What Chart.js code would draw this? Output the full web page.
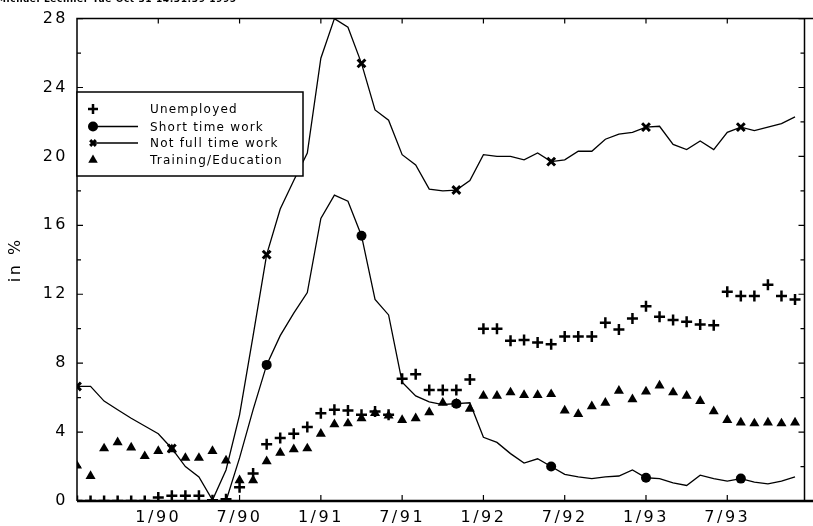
<!DOCTYPE html>
<html>
<head>
<meta charset="utf-8">
<script src="https://cdn.jsdelivr.net/npm/chart.js@4.4.1/dist/chart.umd.min.js"></script>
<style>
  html, body { margin: 0; padding: 0; background: #fff; }
  #wrap { width: 813px; height: 526px; }
</style>
</head>
<body>
<div id="wrap"><canvas id="c" width="813" height="526"></canvas></div>
<script>
// months 7/89 .. 12/93, one point per month
const months = [
  '7/89', '8/89', '9/89', '10/89', '11/89', '12/89',
  '1/90', '2/90', '3/90', '4/90', '5/90', '6/90', '7/90', '8/90', '9/90', '10/90', '11/90', '12/90',
  '1/91', '2/91', '3/91', '4/91', '5/91', '6/91', '7/91', '8/91', '9/91', '10/91', '11/91', '12/91',
  '1/92', '2/92', '3/92', '4/92', '5/92', '6/92', '7/92', '8/92', '9/92', '10/92', '11/92', '12/92',
  '1/93', '2/93', '3/93', '4/93', '5/93', '6/93', '7/93', '8/93', '9/93', '10/93', '11/93', '12/93'
];

const unemployed = [
  0, 0, 0, 0, 0, 0, 0.2, 0.3, 0.3, 0.3, 0.05, 0.1,
  0.8, 1.6, 3.3, 3.65, 3.9, 4.3, 5.1, 5.3, 5.25, 5.0, 5.2, 5.0,
  7.1, 7.35, 6.45, 6.45, 6.45, 7.05, 10.0, 10.0, 9.3, 9.35, 9.2, 9.1,
  9.55, 9.55, 9.55, 10.35, 9.95, 10.6, 11.3, 10.7, 10.5, 10.4, 10.25, 10.2,
  12.15, 11.9, 11.9, 12.55, 11.9, 11.7
];

const shortTime = [
  null, null, null, null, null, null, null, null, null, null, null, 0,
  2.5, 5.3, 7.9, 9.6, 10.9, 12.1, 16.4, 17.75, 17.4, 15.4, 11.7, 10.8,
  6.9, 6.1, 5.75, 5.6, 5.65, 5.7, 3.7, 3.4, 2.75, 2.2, 2.45, 2.0,
  1.55, 1.4, 1.3, 1.4, 1.45, 1.8, 1.35, 1.3, 1.05, 0.9, 1.5, 1.3,
  1.15, 1.3, 1.1, 1.0, 1.15, 1.4
];

const notFullTime = [
  6.65, 6.65, 5.8, 5.3, 4.8, 4.35, 3.9, 3.05, 2.0, 1.4, 0.05, 1.8,
  5.0, 9.6, 14.3, 16.95, 18.6, 20.2, 25.7, 28.0, 27.5, 25.4, 22.7, 22.1,
  20.1, 19.5, 18.1, 18.0, 18.05, 18.6, 20.1, 20.0, 20.0, 19.8, 20.2, 19.7,
  19.8, 20.3, 20.3, 21.0, 21.3, 21.4, 21.7, 21.75, 20.7, 20.4, 20.9, 20.4,
  21.4, 21.7, 21.5, 21.7, 21.9, 22.3
];

const training = [
  2.05, 1.45, 3.05, 3.4, 3.1, 2.6, 2.9, 3.0, 2.5, 2.5, 2.9, 2.35,
  1.2, 1.2, 2.3, 2.8, 3.0, 3.05, 3.9, 4.45, 4.5, 4.8, 5.1, 4.95,
  4.7, 4.8, 5.15, 5.7, 5.65, 5.35, 6.1, 6.1, 6.3, 6.15, 6.15, 6.2,
  5.25, 5.05, 5.5, 5.7, 6.4, 5.9, 6.35, 6.7, 6.3, 6.1, 5.8, 5.2,
  4.7, 4.55, 4.5, 4.55, 4.5, 4.55
];

const yTicks = [0, 4, 8, 12, 16, 20, 24, 28];
const headerText = 'Michael Lechner Tue Oct 31 14:31:39 1995';

const FONT = 'DejaVu Sans';

function pts(arr) {
  return arr.map((v, i) => ({ x: i, y: v }));
}

// lines carry a marker every 7th month only
function every7(r) {
  return ctx => (ctx.raw && ctx.raw.x % 7 === 0) ? r : 0;
}

function symbol(ctx, style, x, y, r, bw) {
  ctx.lineWidth = bw;
  if (Chart.helpers && Chart.helpers.drawPoint) {
    Chart.helpers.drawPoint(ctx, { pointStyle: style, radius: r, rotation: 0, borderWidth: bw }, x, y);
  }
}

const frame = {
  id: 'frame',
  beforeDraw(chart) {
    chart.ctx.letterSpacing = '2.5px';
  },
  afterDatasetsDraw(chart) {
    const { ctx, chartArea: a, scales: { x, y } } = chart;
    ctx.save();
    ctx.letterSpacing = '0px';
    ctx.strokeStyle = '#000';
    ctx.fillStyle = '#000';

    // box
    ctx.lineWidth = 1.5;
    ctx.beginPath();
    ctx.moveTo(a.left, a.bottom);
    ctx.lineTo(a.left, a.top);
    ctx.lineTo(chart.width, a.top);
    ctx.moveTo(a.right, a.top);
    ctx.lineTo(a.right, a.bottom);
    ctx.stroke();
    ctx.lineWidth = 2.5;
    ctx.beginPath();
    ctx.moveTo(a.left, a.bottom);
    ctx.lineTo(chart.width, a.bottom);
    ctx.stroke();

    // inward ticks
    ctx.lineWidth = 1.2;
    ctx.beginPath();
    y.ticks.forEach(t => {
      const py = y.getPixelForValue(t.value);
      const len = t.value % 4 === 0 ? 6 : 4;
      ctx.moveTo(a.left, py); ctx.lineTo(a.left + len, py);
      ctx.moveTo(a.right, py); ctx.lineTo(a.right - len, py);
    });
    x.ticks.forEach(t => {
      if (t.value === 0) return;
      const px = x.getPixelForValue(t.value);
      ctx.moveTo(px, a.bottom); ctx.lineTo(px, a.bottom - 6);
      ctx.moveTo(px, a.top); ctx.lineTo(px, a.top + 5);
    });
    ctx.stroke();

    // legend box
    const lx = a.left, ly = 92, lw = 226, lh = 84;
    ctx.fillStyle = '#fff';
    ctx.fillRect(lx, ly, lw, lh);
    ctx.lineWidth = 1.5;
    ctx.strokeRect(lx, ly, lw, lh);
    ctx.fillStyle = '#000';
    ctx.font = '12px "' + FONT + '"';
    ctx.letterSpacing = '1.2px';
    ctx.textBaseline = 'middle';
    ctx.textAlign = 'left';
    const rows = [109, 126.5, 143, 160];
    chart.data.datasets.forEach((ds, i) => {
      const ry = rows[i];
      const sx = 93;
      if (ds.showLine !== false) {
        ctx.lineWidth = 1.3;
        ctx.beginPath();
        ctx.moveTo(sx, ry);
        ctx.lineTo(138, ry);
        ctx.stroke();
      }
      symbol(ctx, ds.pointStyle, sx, ry, ds.legendRadius, ds.pointBorderWidth || 0);
      ctx.fillText(ds.label, 150, ry + 1);
    });

    // plot stamp at the very top, cut by the page edge
    ctx.font = 'bold 9px "' + FONT + '"';
    ctx.letterSpacing = '0.6px';
    ctx.textBaseline = 'alphabetic';
    ctx.fillText(headerText, -3, 2);
    ctx.restore();
  }
};

new Chart(document.getElementById('c'), {
  type: 'line',
  data: {
    datasets: [
      {
        label: 'Unemployed',
        data: pts(unemployed),
        showLine: false,
        pointStyle: 'cross',
        pointRadius: 5.5,
        pointBorderWidth: 2.5,
        legendRadius: 5,
        borderColor: '#000',
        backgroundColor: '#000'
      },
      {
        label: 'Short time work',
        data: pts(shortTime),
        borderColor: '#000',
        borderWidth: 1.3,
        backgroundColor: '#000',
        pointStyle: 'circle',
        pointRadius: every7(5),
        pointBorderWidth: 0,
        legendRadius: 5,
        tension: 0
      },
      {
        label: 'Not full time work',
        data: pts(notFullTime),
        borderColor: '#000',
        borderWidth: 1.3,
        backgroundColor: '#000',
        pointStyle: 'crossRot',
        pointRadius: every7(5.5),
        pointBorderWidth: 3,
        legendRadius: 4,
        tension: 0
      },
      {
        label: 'Training/Education',
        data: pts(training),
        showLine: false,
        pointStyle: 'triangle',
        pointRadius: 5.8,
        pointBorderWidth: 0,
        legendRadius: 5.5,
        borderColor: '#000',
        backgroundColor: '#000'
      }
    ]
  },
  options: {
    responsive: false,
    animation: false,
    events: [],
    layout: { padding: { top: 15, right: 2, left: 0, bottom: 0 } },
    plugins: { legend: { display: false }, tooltip: { enabled: false } },
    scales: {
      x: {
        type: 'linear',
        min: 0,
        max: 53.7,
        grid: { display: false, drawTicks: false },
        border: { display: false },
        ticks: {
          stepSize: 6,
          includeBounds: false,
          autoSkip: false,
          maxRotation: 0,
          padding: 7,
          color: '#000',
          font: { family: FONT, size: 16 },
          callback: v => (v > 0 && v % 6 === 0) ? months[v] : ''
        },
        afterFit: s => { s.height = 25; }
      },
      y: {
        min: 0,
        max: 28,
        grid: { display: false, drawTicks: false },
        border: { display: false },
        ticks: {
          stepSize: 2,
          autoSkip: false,
          padding: 9,
          color: '#000',
          font: { family: FONT, size: 16 },
          callback: v => yTicks.includes(v) ? String(v) : ''
        },
        title: {
          display: true,
          text: 'in %',
          color: '#000',
          padding: { top: 6, bottom: 0 },
          font: { family: FONT, size: 16 }
        },
        afterFit: s => { s.width = 77; }
      }
    }
  },
  plugins: [frame]
});
</script>
</body>
</html>
